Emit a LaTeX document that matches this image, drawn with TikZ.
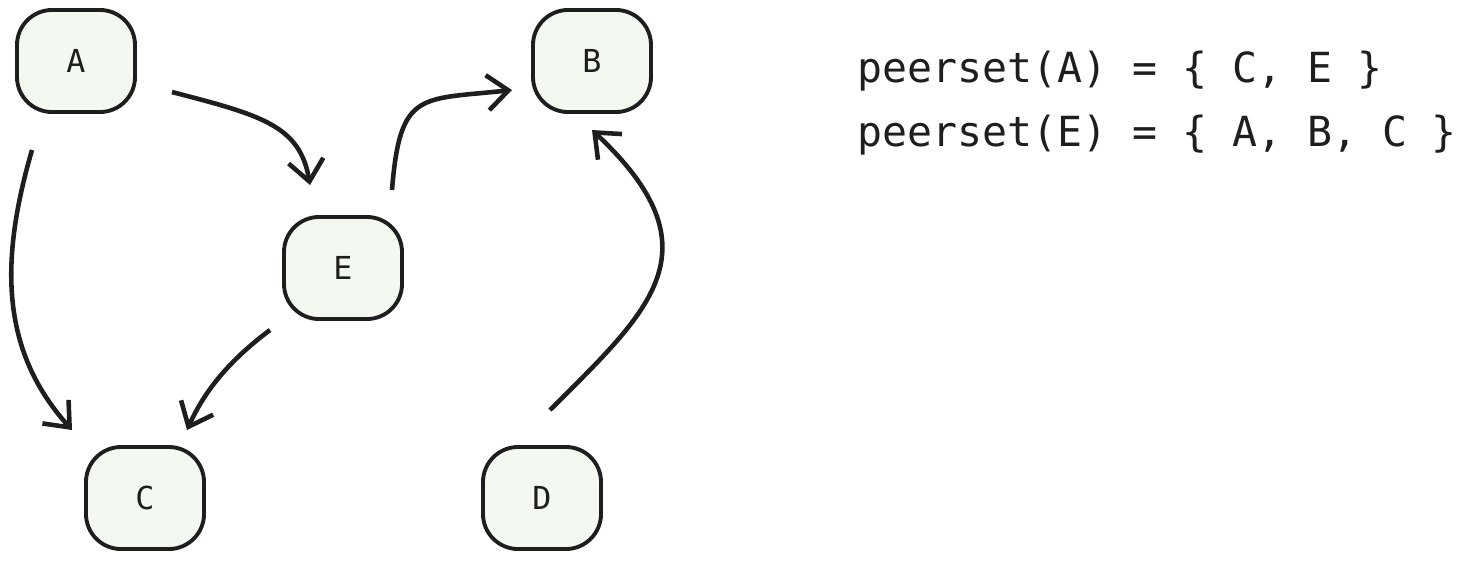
\documentclass[tikz,border=0pt]{standalone}
\usepackage{fontspec}
\setmonofont{DejaVu Sans Mono}
\usetikzlibrary{arrows.meta}
\definecolor{boxfill}{HTML}{F3F8F1}
\definecolor{ink}{HTML}{1E1E1E}
\begin{document}
\begin{tikzpicture}[x=0.01cm,y=-0.01cm,
  box/.style={draw=ink,fill=boxfill,line width=1.1pt,rounded corners=10pt,minimum width=1.18cm,minimum height=1.02cm,font=\ttfamily\fontsize{9}{10}\selectfont,text=ink},
  arr/.style={draw=ink,line width=1.3pt,-{Straight Barb[length=6pt,width=10pt]}}]
\useasboundingbox (0,0) rectangle (1457,560);
\node[box] (A) at (76,61) {A};
\node[box] (B) at (592,61) {B};
\node[box] (E) at (343,268) {E};
\node[box] (C) at (145,498) {C};
\node[box] (D) at (542,498) {D};
\coordinate (a1) at (172,92); \coordinate (e1) at (310,185);
\coordinate (e2) at (392,190); \coordinate (b1) at (512,90);
\coordinate (a2) at (32,150); \coordinate (c1) at (72,430);
\coordinate (e3) at (270,330); \coordinate (c2) at (187,430);
\coordinate (d1) at (550,410); \coordinate (b2) at (592,130);
\draw[arr] (a1) .. controls (260,115) and (300,125) .. (e1);
\draw[arr] (e2) .. controls (400,90) and (420,100) .. (b1);
\draw[arr] (a2) .. controls (0,260) and (0,350) .. (c1);
\draw[arr] (e3) .. controls (230,360) and (205,390) .. (c2);
\draw[arr] (d1) .. controls (650,310) and (720,250) .. (b2);
\node[anchor=west,font=\ttfamily\fontsize{11.8}{14}\selectfont,text=ink,align=left] (T) at (845,103) {peerset(A) = \{ C, E \}\\[4pt]peerset(E) = \{ A, B, C \}};
\end{tikzpicture}
\end{document}
